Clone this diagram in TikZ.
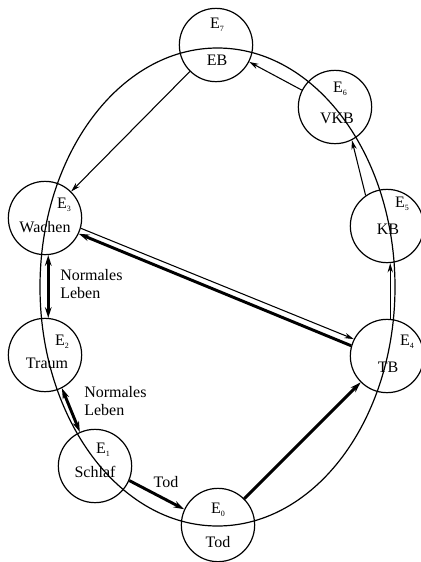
\documentclass[tikz,border=0pt]{standalone}
\usepackage{fontspec}
\setmainfont{Liberation Serif}
\usetikzlibrary{arrows.meta}
\newcommand{\stato}[1]{E\raisebox{-2.5pt}{\fontsize{6}{6}\selectfont #1}}
\tikzset{
	statonodo/.style={draw, circle, line width=0.9pt, minimum size=55pt, inner sep=0pt},
	testo/.style={inner sep=0pt, font=\fontsize{12}{13.5}\selectfont},
	sottile/.style={line width=0.8pt, -{Stealth[length=7pt,width=4pt]}},
	spesso/.style={line width=2.2pt, -{Stealth[length=8pt,width=5pt]}},
	spessodoppio/.style={line width=2.2pt, {Stealth[length=8pt,width=5pt]}-{Stealth[length=8pt,width=5pt]}}
}
\begin{document}
\begin{tikzpicture}[x=0.75pt, y=-0.75pt]
		\useasboundingbox (0,0) rectangle (421,562);

		% Ellisse
		\draw[line width=0.9pt] (217.5,287) ellipse [x radius=177.5, y radius=239];

		% Stati
		\node[statonodo] (e7) at (216,45) {};
		\node[statonodo] (e6) at (335,107) {};
		\node[statonodo] (e5) at (387,226) {};
		\node[statonodo] (e4) at (387,356) {};
		\node[statonodo] (e3) at (45,218) {};
		\node[statonodo] (e2) at (45,355) {};
		\node[statonodo] (e1) at (95,466) {};
		\node[statonodo] (e0) at (218,525) {};

		\node[testo] (t7) at (217,25) {\stato{7}};
		\node[testo] (n7) at (217,60) {EB};
		\node[testo] (t6) at (340,89) {\stato{6}};
		\node[testo] (n6) at (337,118) {VKB};
		\node[testo] (t5) at (402,204) {\stato{5}};
		\node[testo] (n5) at (388,229) {KB};
		\node[testo] (t4) at (407,342) {\stato{4}};
		\node[testo] (n4) at (388,367) {TB};
		\node[testo] (t3) at (64,205) {\stato{3}};
		\node[testo] (n3) at (45,227) {Wachen};
		\node[testo] (t2) at (62,342) {\stato{2}};
		\node[testo] (n2) at (47,363) {Traum};
		\node[testo] (t1) at (103,450) {\stato{1}};
		\node[testo] (n1) at (95,472) {Schlaf};
		\node[testo] (t0) at (218,510) {\stato{0}};
		\node[testo] (n0) at (218,542) {Tod};

		% Archi
		\draw[sottile] (e7) -- (e3);
		\draw[sottile] (e6.153) -- (e7.-27);
		\draw[sottile] (e5.125) -- (e6.-63);
		\draw[sottile] (e4.85) -- (e5.-85);
		\draw[sottile] (e3.-16) -- (e4.153);
		\draw[spesso] (e4.164) -- (e3.-25);
		\draw[spesso] (e0) -- (e4);
		\draw[spesso] (e1.-23) -- (e0.155);
		\draw[spessodoppio] (e2.-63) -- (e1.114);
		\draw[spessodoppio] (e3.-85) -- (e2.85);

		% Etichette
		\node[testo, anchor=west, align=left] (l1) at (60,284) {Normales\\Leben};
		\node[testo, anchor=west, align=left] (l2) at (84,401) {Normales\\Leben};
		\node[testo] (l3) at (166,482) {Tod};
	\end{tikzpicture}
\end{document}
